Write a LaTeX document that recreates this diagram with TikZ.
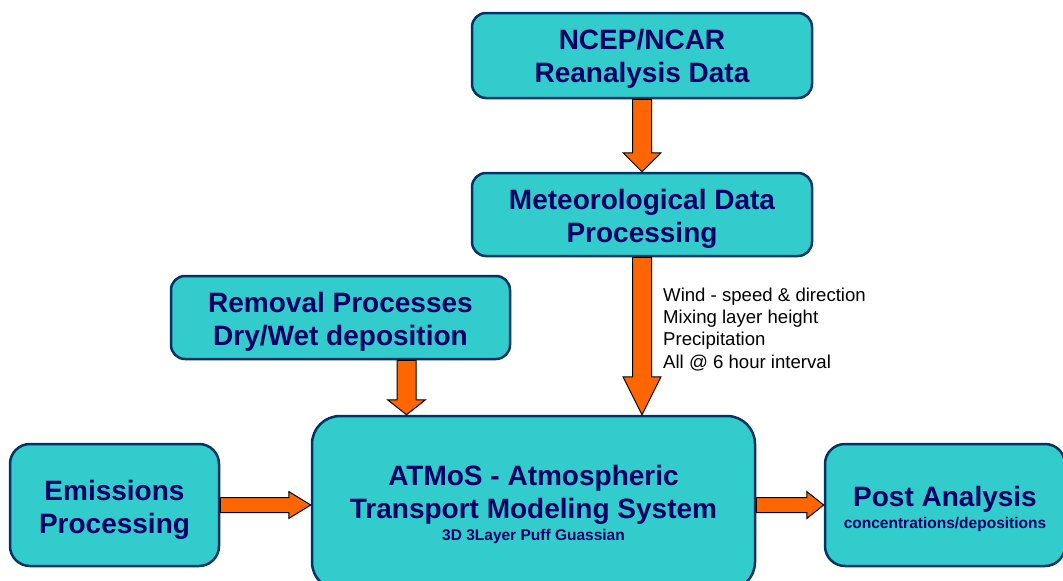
\documentclass[tikz,border=0pt]{standalone}
\usepackage{fontspec}
\setmainfont{Liberation Sans}
\usetikzlibrary{calc}
\definecolor{boxfill}{RGB}{51,204,204}
\definecolor{boxline}{RGB}{0,51,102}
\definecolor{boxtext}{RGB}{0,0,102}
\definecolor{arrowfill}{RGB}{255,102,0}
\begin{document}
\begin{tikzpicture}[x=1pt,y=-1pt,
  box/.style={draw=boxline, fill=boxfill, line width=2.5pt, inner sep=0pt},
  boxlabel/.style={align=center, text=boxtext, inner sep=0pt,
    font=\bfseries\fontsize{28}{33}\selectfont},
  blockarrow/.style={draw=black, fill=arrowfill, line width=1pt, line join=miter},
  note/.style={anchor=north west, inner sep=0pt, align=left, text=black,
    font=\fontsize{18.6}{22.3}\selectfont}]
\useasboundingbox (0,0) rectangle (1063,581);
% boxes
\node[box, minimum width=340pt, minimum height=85pt, rounded corners=14pt] (ncep) at (642,55.5) {};
\node[box, minimum width=340pt, minimum height=83pt, rounded corners=14pt] (met) at (642,214.5) {};
\node[box, minimum width=339pt, minimum height=83pt, rounded corners=14pt] (rem) at (340.5,317.5) {};
\node[box, minimum width=443pt, minimum height=174pt, rounded corners=28pt] (atm) at (533.5,503) {};
\node[box, minimum width=209pt, minimum height=122pt, rounded corners=20pt] (emi) at (114.5,505) {};
\node[box, minimum width=240pt, minimum height=122pt, rounded corners=20pt] (post) at (945,505) {};
% box texts
\node[boxlabel] (ncep-t) at ([yshift=-3.5pt]ncep.center) {NCEP/NCAR\\Reanalysis Data};
\node[boxlabel] (met-t) at ([yshift=-4.5pt]met.center) {Meteorological Data\\Processing};
\node[boxlabel] (rem-t) at ([yshift=-4.5pt]rem.center) {Removal Processes\\Dry/Wet deposition};
\node[boxlabel] (atm-t) at ([yshift=-1.5pt]atm.center) {ATMoS - Atmospheric\\Transport Modeling System\\[-11pt]\fontsize{15.5}{22}\selectfont 3D 3Layer Puff Guassian};
\node[boxlabel] (emi-t) at ([yshift=-5pt]emi.center) {Emissions\\Processing};
\node[boxlabel] (post-t) at ([yshift=-4pt]post.center) {Post Analysis\\[-11pt]\fontsize{15.5}{22}\selectfont concentrations/depositions};
\node[note] (wind) at (663,287.5) {Wind - speed \& direction\\Mixing layer height\\Precipitation\\All @ 6 hour interval};
\coordinate (rx) at (406.5,0);
% NCEP -> Met
\draw[blockarrow] let \p1=(ncep.south), \p2=(met.north) in
  (\x1-9.5pt,\y1) -- (\x1+9.5pt,\y1) -- (\x1+9.5pt,\y2+19pt) -- (\x1+19pt,\y2+19pt)
  -- (\x1,\y2) -- (\x1-19pt,\y2+19pt) -- (\x1-9.5pt,\y2+19pt) -- cycle;
% Met -> ATMoS
\draw[blockarrow] let \p1=(met.south), \p2=(atm.north) in
  (\x1-9.5pt,\y1) -- (\x1+9.5pt,\y1) -- (\x1+9.5pt,\y2+38pt) -- (\x1+19pt,\y2+38pt)
  -- (\x1,\y2) -- (\x1-19pt,\y2+38pt) -- (\x1-9.5pt,\y2+38pt) -- cycle;
% Removal -> ATMoS
\draw[blockarrow] let \p1=(rem.south -| rx), \p2=(atm.north -| rx) in
  (\x1-9.5pt,\y1) -- (\x1+9.5pt,\y1) -- (\x1+9.5pt,\y2+15pt) -- (\x1+19pt,\y2+15pt)
  -- (\x1,\y2) -- (\x1-19pt,\y2+15pt) -- (\x1-9.5pt,\y2+15pt) -- cycle;
% Emissions -> ATMoS
\draw[blockarrow] let \p1=(emi.east), \p2=(atm.west) in
  (\x1,\y1-7.5pt) -- (\x2-22pt,\y1-7.5pt) -- (\x2-22pt,\y1-13.5pt) -- (\x2,\y1)
  -- (\x2-22pt,\y1+13.5pt) -- (\x2-22pt,\y1+7.5pt) -- (\x1,\y1+7.5pt) -- cycle;
% ATMoS -> Post
\draw[blockarrow] let \p1=(post.west), \p2=(atm.east) in
  (\x2,\y1-7.5pt) -- (\x1-17pt,\y1-7.5pt) -- (\x1-17pt,\y1-13.5pt) -- (\x1,\y1)
  -- (\x1-17pt,\y1+13.5pt) -- (\x1-17pt,\y1+7.5pt) -- (\x2,\y1+7.5pt) -- cycle;
\end{tikzpicture}
\end{document}
